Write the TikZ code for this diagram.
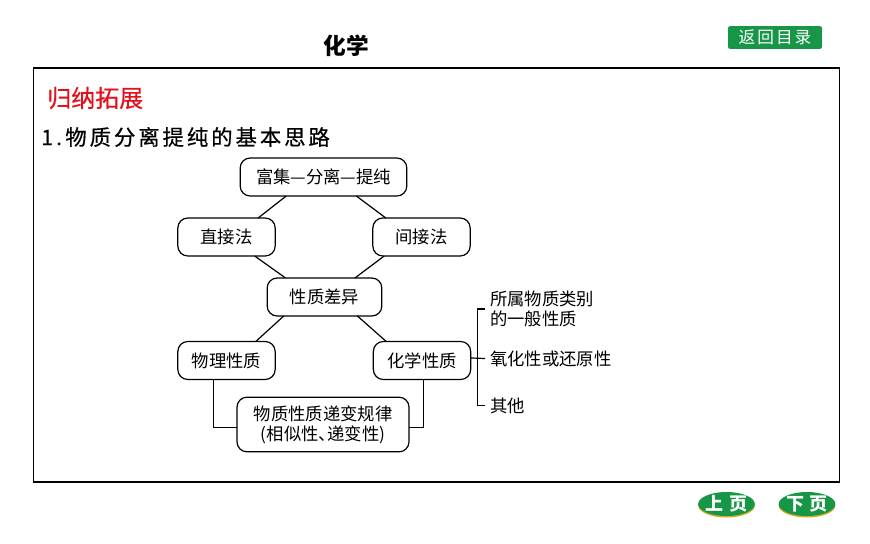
\documentclass[tikz,border=0pt]{standalone}
\usepackage{fontspec}
\usepackage{tikz}
\usetikzlibrary{shapes.geometric}
\newfontfamily\cjk{Noto Sans CJK SC}
\definecolor{btngreen}{RGB}{22,150,70}
\definecolor{btngold}{RGB}{214,170,30}
\definecolor{headred}{RGB}{228,16,28}
\tikzset{
  stagebox/.style={draw, rounded corners=7.5pt, line width=0.9pt, inner sep=0pt, outer sep=0pt, minimum width=73pt, minimum height=28.5pt, align=center, font=\cjk\fontsize{13}{15}\selectfont},
  sidetext/.style={inner xsep=3.75pt, inner ysep=0pt, outer sep=0pt, align=left, font=\cjk\fontsize{13}{15}\selectfont},
  link/.style={line width=0.9pt},
  oval/.style={ellipse, inner xsep=-8pt, inner ysep=0pt, minimum width=42.5pt, minimum height=18pt},
  ovaltext/.style={text=white, font=\cjk\bfseries\fontsize{13.5}{15}\selectfont\addfontfeature{LetterSpace=33}}
}
\begin{document}
\begin{tikzpicture}[x=0.75pt, y=-0.75pt]
\useasboundingbox (0,0) rectangle (870,543);
\node (frame) [draw, line width=0.9pt, minimum width=605pt, minimum height=310.5pt, inner sep=0pt] at (436.5,275) {};
\node (title) [font=\cjk\bfseries\fontsize{17}{20}\selectfont] at (346,46) {化学};
\node (back) [fill=btngreen, rounded corners=1.5pt, minimum width=70.5pt, minimum height=17pt, inner sep=0pt, text=white, font=\cjk\fontsize{12.5}{15}\selectfont\addfontfeature{LetterSpace=12}] at (775,37.5) {返回目录};
\node (heading) [text=headred, anchor=west, inner sep=0pt, font=\cjk\fontsize{18}{20}\selectfont\addfontfeature{FakeBold=0.5}] at (47,98) {归纳拓展};
\node (sub) [anchor=west, inner sep=0pt, font=\cjk\fontsize{16}{20}\selectfont\addfontfeature{LetterSpace=14,FakeBold=0.6}] at (41,137) {1.\kern2.5pt 物质分离提纯的基本思路};
% boxes
\node (fuji) [stagebox, minimum width=125pt] at (323.5,177) {富集—分离—提纯};
\node (zhijie) [stagebox] at (226.5,237) {直接法};
\node (jianjie) [stagebox] at (421.5,237) {间接法};
\node (chayi) [stagebox, minimum width=86pt] at (324.5,297) {性质差异};
\node (wuli) [stagebox] at (226.5,360.5) {物理性质};
\node (huaxue) [stagebox] at (422,360.5) {化学性质};
\node (guilv) [stagebox, minimum width=129pt, minimum height=41pt] at (323,424.5) {物质性质递变规律\\(相似性、\kern-6.5pt递变性)};
% side list
\node (lei) [sidetext, anchor=west] at (485,309) {所属物质类别\\的一般性质};
\node (yanghua) [sidetext, anchor=west] at (485,358.5) {氧化性或还原性};
\node (qita) [sidetext, anchor=west] at (485,405.5) {其他};
% links
\draw[link] (fuji.207) -- (zhijie.31);
\draw[link] (fuji.330) -- (jianjie.152);
\draw[link] (zhijie.326) -- (chayi.154);
\draw[link] (jianjie.207) -- (chayi.32);
\draw[link] (chayi.205) -- (wuli.33);
\draw[link] (chayi.330) -- (huaxue.152);
\draw[link] ([xshift=-10pt]wuli.south) |- (guilv.182);
\draw[link] ([xshift=1pt]huaxue.south) |- (guilv.358);
\draw[link] (huaxue.3) -- (yanghua.west);
\draw[link] (lei.west) -- ++(-7.5,0) |- (qita.west);
% page buttons
\node (prevgold) [oval, fill=btngold] at (726.5,505.5) {};
\node (prev) [oval, fill=btngreen, ovaltext] at (726.5,504) {上页};
\node (nextgold) [oval, fill=btngold] at (807,505.5) {};
\node (next) [oval, fill=btngreen, ovaltext] at (807,504) {下页};
\end{tikzpicture}
\end{document}
